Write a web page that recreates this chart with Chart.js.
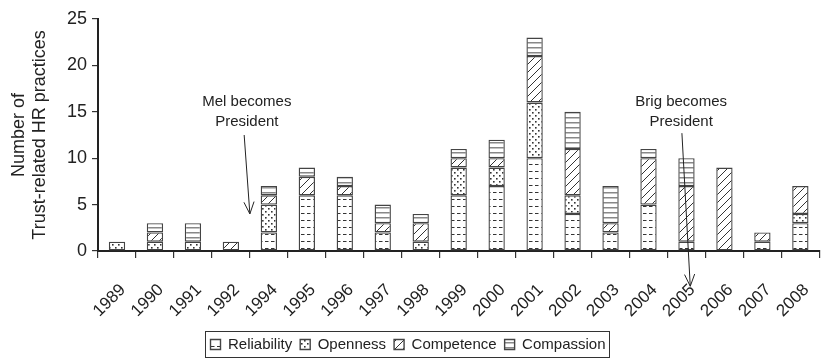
<!DOCTYPE html>
<html>
<head>
<meta charset="utf-8">
<script src="https://cdn.jsdelivr.net/npm/chart.js@4/dist/chart.umd.min.js"></script>
<style>
  html, body { margin: 0; padding: 0; background: #fff; }
  #wrap { width: 837px; height: 362px; }
</style>
</head>
<body>
<div id="wrap"><canvas id="bar-chart" width="837" height="362"></canvas></div>
<script>
// Data
var years = ["1989","1990","1991","1992","1994","1995","1996","1997","1998","1999",
             "2000","2001","2002","2003","2004","2005","2006","2007","2008"];
var reliability = [0,0,0,0,2,6,6,2,0,6,7,10,4,2,5,1,0,1,3];
var openness    = [1,1,1,0,3,0,0,0,1,3,2,6,2,0,0,0,0,0,1];
var competence  = [0,1,0,1,1,2,1,1,2,1,1,5,5,1,5,6,9,1,3];
var compassion  = [0,1,2,0,1,1,1,2,1,1,2,2,4,4,1,3,0,0,0];
var yTicks = [0,5,10,15,20,25];
var yTitle = ["Number of", "Trust-related HR practices"];

var FONT = "'Liberation Sans', Arial, sans-serif";

// fill patterns
function makePattern(w, h, draw) {
    var c = document.createElement("canvas");
    c.width = w; c.height = h;
    var g = c.getContext("2d");
    g.fillStyle = "#fff";
    g.fillRect(0, 0, w, h);
    draw(g);
    return document.getElementById("bar-chart").getContext("2d").createPattern(c, "repeat");
}

var relPattern = makePattern(6, 7, function(g){
    g.strokeStyle = "#333"; g.lineWidth = 1;
    g.beginPath(); g.moveTo(1, 3.5); g.lineTo(4.5, 3.5); g.stroke();
});
var openPattern = makePattern(6, 6, function(g){
    g.fillStyle = "#333";
    g.fillRect(1, 1, 1.6, 1.6);
    g.fillRect(4, 4, 1.6, 1.6);
});
var compPattern = makePattern(8, 8, function(g){
    g.strokeStyle = "#333"; g.lineWidth = 1;
    g.beginPath();
    g.moveTo(0, 8); g.lineTo(8, 0);
    g.moveTo(-1, 1); g.lineTo(1, -1);
    g.moveTo(7, 9); g.lineTo(9, 7);
    g.stroke();
});
var cmpsPattern = makePattern(4, 5, function(g){
    g.fillStyle = "#888";
    g.fillRect(0, 2, 4, 1.5);
});

function ds(label, data, pattern) {
    return {
        label: label,
        data: data,
        backgroundColor: pattern,
        borderColor: "#444",
        borderWidth: 1.4,
        borderSkipped: false,
        categoryPercentage: 1.0,
        barPercentage: 0.43
    };
}

// annotations: text and arrows (in axis units)
var notes = [
    { lines: ["Mel becomes", "President"], tx: 3.42, ty: 16.1, from: [3.35, 12.5], to: [3.5, 4.0] },
    { lines: ["Brig becomes", "President"], tx: 14.86, ty: 16.1, from: [14.88, 12.7], to: [15.1, -3.8] }
];

var notePlugin = {
    id: "notes",
    afterLayout: function(chart) {
        // legend sits a little left of the canvas centre
        var lg = chart.legend;
        lg.left = 0;
        lg.right = 816;
    },
    afterDatasetsDraw: function(chart) {
        var ctx = chart.ctx, xs = chart.scales.x, ys = chart.scales.y;
        ctx.save();
        ctx.fillStyle = "#222";
        ctx.font = "15px " + FONT;
        ctx.textAlign = "center";
        ctx.textBaseline = "middle";
        notes.forEach(function(n) {
            var x = xs.getPixelForValue(n.tx), y = ys.getPixelForValue(n.ty);
            n.lines.forEach(function(t, i) { ctx.fillText(t, x, y + i * 20); });
            var x1 = xs.getPixelForValue(n.from[0]), y1 = ys.getPixelForValue(n.from[1]);
            var x2 = xs.getPixelForValue(n.to[0]), y2 = ys.getPixelForValue(n.to[1]);
            ctx.strokeStyle = "#222"; ctx.lineWidth = 1;
            ctx.beginPath(); ctx.moveTo(x1, y1); ctx.lineTo(x2, y2); ctx.stroke();
            var a = Math.atan2(y2 - y1, x2 - x1), len = 13, sp = 0.4;
            ctx.beginPath();
            ctx.moveTo(x2 - len * Math.cos(a - sp), y2 - len * Math.sin(a - sp));
            ctx.lineTo(x2, y2);
            ctx.lineTo(x2 - len * Math.cos(a + sp), y2 - len * Math.sin(a + sp));
            ctx.stroke();
        });

        // y axis title, two lines
        ctx.translate(30, 135);
        ctx.rotate(-Math.PI / 2);
        ctx.font = "18px " + FONT;
        ctx.fillText(yTitle[0], 0, -11);
        ctx.fillText(yTitle[1], 0, 10);
        ctx.restore();
    },
    afterDraw: function(chart) {
        // box round the legend
        var boxes = chart.legend.legendHitBoxes;
        if (!boxes || !boxes.length) return;
        var l = Infinity, r = -Infinity, t = Infinity, b = -Infinity;
        boxes.forEach(function(h) {
            l = Math.min(l, h.left); r = Math.max(r, h.left + h.width);
            t = Math.min(t, h.top); b = Math.max(b, h.top + h.height);
        });
        var ctx = chart.ctx;
        ctx.save();
        ctx.strokeStyle = "#333"; ctx.lineWidth = 1;
        ctx.strokeRect(Math.round(l - 6) + 0.5, Math.round(t - 6) + 0.5, Math.round(r - l + 9), Math.round(b - t + 11));
        ctx.restore();
    }
};

var ctx = document.getElementById("bar-chart");

var config = {
    type: "bar",
    data: {
        labels: years,
        datasets: [
            ds("Reliability", reliability, relPattern),
            ds("Openness", openness, openPattern),
            ds("Competence", competence, compPattern),
            ds("Compassion", compassion, cmpsPattern)
        ]
    },
    options: {
        responsive: false,
        animation: false,
        layout: { padding: { left: 0, right: 8, top: 19, bottom: 0 } },
        plugins: {
            tooltip: { enabled: false },
            legend: {
                position: "bottom",
                labels: {
                    color: "#222",
                    boxWidth: 10,
                    boxHeight: 10,
                    padding: 8,
                    font: { family: FONT, size: 15 }
                }
            }
        },
        scales: {
            x: {
                stacked: true,
                afterFit: function(axis) { axis.height = 78; },
                grid: { offset: true, drawOnChartArea: false, tickLength: 7, color: "#333", lineWidth: 1.2 },
                border: { color: "#222", width: 2 },
                ticks: {
                    color: "#222",
                    maxRotation: 45, minRotation: 45,
                    padding: 22,
                    labelOffset: 6,
                    font: { family: FONT, size: 17 }
                }
            },
            y: {
                stacked: true,
                min: 0, max: 25,
                afterBuildTicks: function(axis) {
                    axis.ticks = yTicks.map(function(v) { return { value: v }; });
                },
                afterFit: function(axis) { axis.width = 98; },
                grid: { drawOnChartArea: false, tickLength: 6, color: "#333", lineWidth: 1.2 },
                border: { color: "#222", width: 2 },
                ticks: {
                    color: "#222",
                    padding: 5,
                    font: { family: FONT, size: 18 }
                }
            }
        }
    },
    plugins: [notePlugin]
};

// Create the chart
var barChart = new Chart(ctx, config);
</script>
</body>
</html>
